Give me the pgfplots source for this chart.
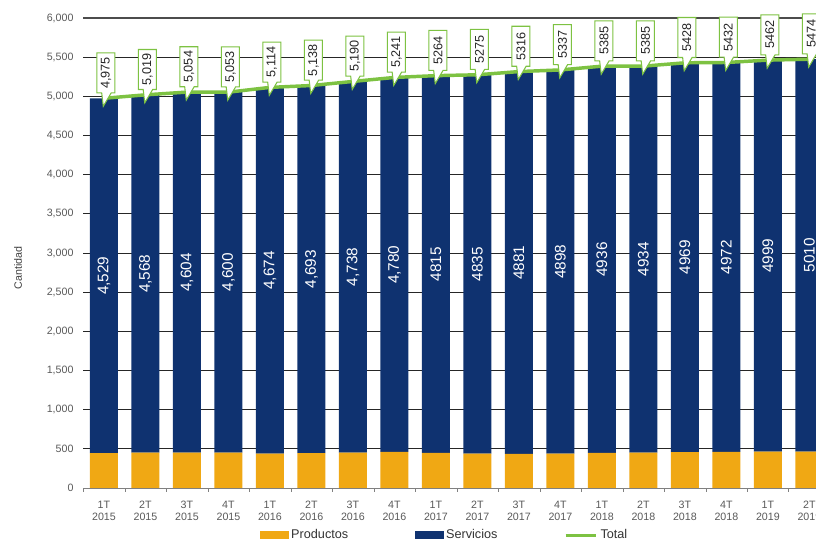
\documentclass[border=0pt]{standalone}
\usepackage{fontspec}
\setmainfont{Liberation Sans}
\usepackage{pgfplots}
\usepackage{pgfplotstable}
\pgfplotsset{compat=1.18}
\usetikzlibrary{shapes.callouts}

\definecolor{cprod}{HTML}{F0A814}
\definecolor{cserv}{HTML}{0F3270}
\definecolor{ctot}{HTML}{7DC242}
\definecolor{ctxt}{HTML}{595959}

% trimestre, productos, servicios, total, etiquetas tal como salen en el grafico
\pgfplotstableread{
x  prod serv total slab  tlab
0  446  4529 4975  4,529 4,975
1  451  4568 5019  4,568 5,019
2  450  4604 5054  4,604 5,054
3  453  4600 5053  4,600 5,053
4  440  4674 5114  4,674 5,114
5  445  4693 5138  4,693 5,138
6  452  4738 5190  4,738 5,190
7  461  4780 5241  4,780 5,241
8  449  4815 5264  4815  5264
9  440  4835 5275  4835  5275
10 435  4881 5316  4881  5316
11 439  4898 5337  4898  5337
12 449  4936 5385  4936  5385
13 451  4934 5385  4934  5385
14 459  4969 5428  4969  5428
15 460  4972 5432  4972  5432
16 463  4999 5462  4999  5462
17 464  5010 5474  5010  5474
}\datos

\pgfplotsset{
  base/.style={
    scale only axis,
    width=549.6pt, height=352.5pt,
    at={(62.4pt,39.75pt)}, anchor=south west,
    xmin=-0.5, xmax=17.16,
    ymin=0, ymax=6000,
  },
}

\begin{document}
\begin{tikzpicture}
\useasboundingbox (0,0) rectangle (612pt,405.75pt);

\begin{axis}[
    base,
    ybar stacked,
    bar width=21pt,
    axis x line*=bottom,
    axis y line*=left,
    x axis line style={gray},
    y axis line style={draw=none},
    xtick=data,
    xticklabels={{1T\\2015},{2T\\2015},{3T\\2015},{4T\\2015},
                 {1T\\2016},{2T\\2016},{3T\\2016},{4T\\2016},
                 {1T\\2017},{2T\\2017},{3T\\2017},{4T\\2017},
                 {1T\\2018},{2T\\2018},{3T\\2018},{4T\\2018},
                 {1T\\2019},{2T\\2019}},
    minor xtick={-0.5,0.5,...,16.5},
    tick align=outside,
    major x tick style={draw=none},
    minor x tick style={gray},
    minor tick length=3pt,
    ytick={0,500,...,5500},
    extra y ticks={6000},
    extra y tick style={grid style={gray!60!black, line width=1.6pt}},
    ytick style={draw=none},
    ymajorgrids,
    grid style={black!85, line width=0.6pt},
    /pgf/number format/.cd, 1000 sep={,}, assume math mode=true, /pgfplots/.cd,
    tick label style={font=\fontsize{8}{9}\selectfont, text=ctxt},
    xticklabel style={align=center, yshift=-2pt},
    yticklabel style={xshift=0.5pt},
    ylabel={Cantidad},
    ylabel style={at={(axis description cs:-0.089,0.468)}, anchor=center,
                  font=\fontsize{8}{9}\selectfont, text=black!75},
  ]
  \addplot[fill=cprod, draw=none] table[x=x, y=prod] {\datos};
  \addplot[fill=cserv, draw=none] table[x=x, y=serv] {\datos};
\end{axis}

\begin{axis}[
    base,
    hide axis,
    clip=false,
    legend columns=3,
    legend style={at={(0.4937,-0.1)}, anchor=center, draw=none, fill=none,
                  font=\fontsize{9.5}{11}\selectfont, text=black!80,
                  /tikz/every even column/.append style={column sep=48pt}},
    legend cell align=left,
  ]
  \addlegendimage{legend image code/.code={\fill[cprod] (0pt,-2.5pt) rectangle (21pt,2.5pt);}}
  \addlegendentry{Productos}
  \addlegendimage{legend image code/.code={\fill[cserv] (0pt,-2.5pt) rectangle (21pt,2.5pt);}}
  \addlegendentry{Servicios}
  % etiquetas de servicios, centradas en el tramo azul
  \addplot[forget plot, draw=none, mark=none,
    nodes near coords, point meta=explicit symbolic,
    visualization depends on={\thisrow{serv} \as \sv},
    every node near coord/.append style={
      anchor=center, yshift=-0.029375pt*\sv, rotate=90,
      text=white, font=\fontsize{11.5}{12}\selectfont}]
    table[x=x, y=total, meta=slab] {\datos};
  \addplot[ctot, line width=2.6pt,
    legend image code/.code={\draw[ctot, line width=2.25pt] (0pt,0pt) -- (23pt,0pt);},
    nodes near coords={\rotatebox{90}{\pgfplotspointmeta}},
    point meta=explicit symbolic,
    every node near coord/.append style={
      rectangle callout, draw=ctot, line width=0.8pt, fill=white,
      inner sep=0pt, minimum width=13.5pt, minimum height=30pt,
      anchor=center, xshift=1.5pt, yshift=19pt,
      callout relative pointer={(-0.8pt,-10pt)},
      text=black!85, font=\fontsize{9.5}{10}\selectfont}]
    table[x=x, y=total, meta=tlab] {\datos};
  \addlegendentry{Total}
\end{axis}
\end{tikzpicture}
\end{document}
